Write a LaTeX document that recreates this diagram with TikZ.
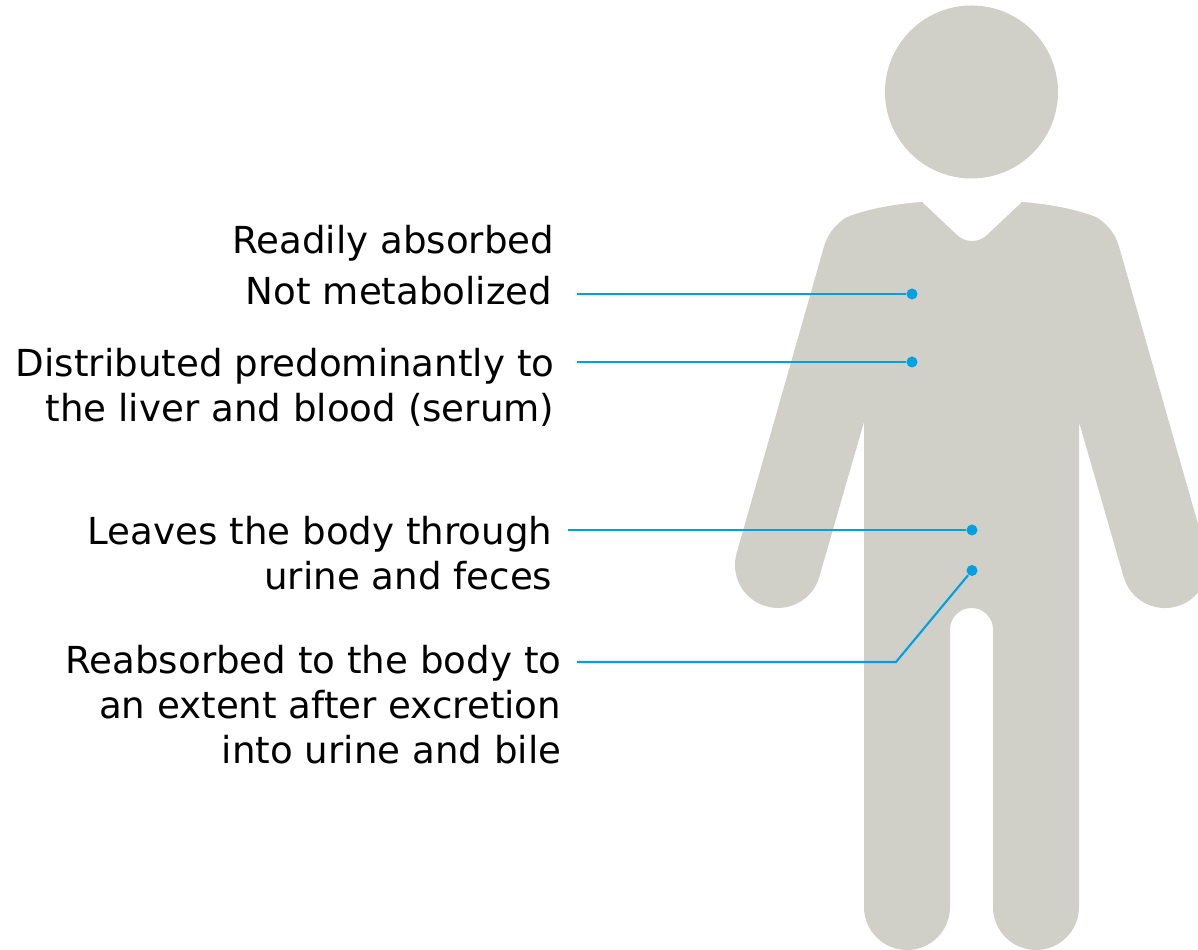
\documentclass[tikz,border=0pt]{standalone}
\usepackage{fontspec}
\setmainfont{DejaVu Sans}
\definecolor{bodygray}{HTML}{D0D0C8}
\definecolor{leadblue}{HTML}{00A0E3}
\tikzset{
  lead/.style={draw=leadblue,line width=0.6pt},
  tip/.style={circle,fill=leadblue,inner sep=0pt,minimum size=0.11cm},
  label/.style={font=\fontsize{10.58}{12.8}\selectfont,anchor=east,align=right,inner sep=0pt}
}
\begin{document}
\begin{tikzpicture}[x=1cm,y=1cm]
  \clip (0,0) rectangle (11.98,9.5);
  % figure
  \fill[bodygray] (9.715,8.58) circle (0.865);
  \fill[bodygray] (9.22,7.48) -- (9.57,7.15) .. controls (9.65,7.07) and (9.79,7.07) .. (9.87,7.15)
    -- (10.22,7.48) .. controls (10.5,7.46) and (10.8,7.40) .. (10.98,7.32)
    .. controls (11.1,7.23) and (11.16,7.15) .. (11.2,7.0)
    -- (12.063,3.968) arc[start angle=16,end angle=-164,radius=0.43]
    -- (10.79,5.28) -- (10.79,0.43) arc[start angle=0,end angle=-180,radius=0.43]
    -- (9.93,3.205) arc[start angle=0,end angle=180,radius=0.215]
    -- (9.50,0.43) arc[start angle=0,end angle=-180,radius=0.43]
    -- (8.64,5.28) -- (8.193,3.732) arc[start angle=-16,end angle=-196,radius=0.43]
    -- (8.23,7.0) .. controls (8.27,7.15) and (8.33,7.23) .. (8.45,7.32)
    .. controls (8.63,7.40) and (8.93,7.46) .. (9.22,7.48) -- cycle;
  % labels
  \node[label] (absorbed) at (5.55,7.07){Readily absorbed};
  \node[label] (metabolized) at (5.53,6.59){Not metabolized};
  \node[label] (distributed) at (5.55,5.63){Distributed predominantly to\\the liver and blood (serum)};
  \node[label] (leaves) at (5.53,3.97){Leaves the body through\\urine and feces};
  \node[label] (reabsorbed) at (5.62,2.455){Reabsorbed to the body to\\an extent after excretion\\into urine and bile};
  % leads
  \foreach \n/\x/\y/\s in {a/9.12/6.56/5.77,b/9.12/5.88/5.77,c/9.72/4.2/5.68} {
    \node[tip] (tip\n) at (\x,\y){};
    \coordinate (start\n) at (\s,\y);
    \draw[lead] (start\n) -- (tip\n);
  }
  \node[tip] (tipd) at (9.72,3.795){};
  \coordinate (startd) at (5.77,2.88);
  \coordinate (bendd) at (8.96,2.88);
  \draw[lead] (startd) -- (bendd) -- (tipd);
\end{tikzpicture}
\end{document}
